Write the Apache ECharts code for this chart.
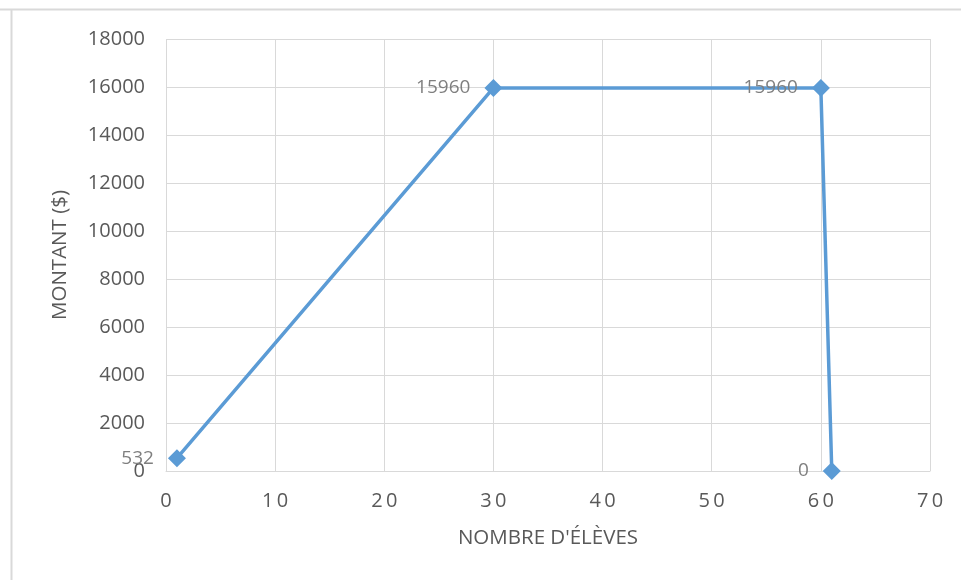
<!DOCTYPE html>
<html>
<head>
<meta charset="utf-8">
<script src="https://cdn.jsdelivr.net/npm/echarts@6/dist/echarts.min.js"></script>
<style>
  html, body { margin: 0; padding: 0; background: #fff; }
  #chart { width: 961px; height: 580px; }
</style>
</head>
<body>
<div id="chart"></div>
<script>
// Number of students vs. amount collected
const eleves = [1, 30, 60, 61];
const montants = [532, 15960, 15960, 0];

const xTicks = { min: 0, max: 70, interval: 10 };
const yTicks = { min: 0, max: 18000, interval: 2000 };

const xTitle = "NOMBRE D'ÉLÈVES";
const yTitle = 'MONTANT ($)';

const font = '"Open Sans", "Liberation Sans", sans-serif';
const grey = '#595959';
const gridGrey = '#d9d9d9';

const chart = echarts.init(document.getElementById('chart'), null, { renderer: 'canvas' });

chart.setOption({
  animation: false,
  backgroundColor: '#fff',
  graphic: [
    { type: 'line', shape: { x1: 0, y1: 9.5, x2: 961, y2: 9.5 }, style: { stroke: '#d9d9d9', lineWidth: 2 } },
    { type: 'line', shape: { x1: 11.5, y1: 9, x2: 11.5, y2: 580 }, style: { stroke: '#d9d9d9', lineWidth: 2 } }
  ],
  grid: { left: 166, right: 31, top: 39, bottom: 109, containLabel: false },
  xAxis: {
    type: 'value',
    min: xTicks.min, max: xTicks.max, interval: xTicks.interval,
    name: xTitle,
    nameLocation: 'middle',
    nameGap: 57,
    nameTextStyle: { color: grey, fontFamily: font, fontSize: 20.5 },
    axisLine: { show: true, lineStyle: { color: gridGrey, width: 1 } },
    axisTick: { show: false },
    splitLine: { show: true, lineStyle: { color: gridGrey, width: 1 } },
    axisLabel: {
      color: grey, fontFamily: font, fontSize: 20, margin: 20,
      formatter: v => String(v).split('').join('\u2009')
    }
  },
  yAxis: {
    type: 'value',
    min: yTicks.min, max: yTicks.max, interval: yTicks.interval,
    name: yTitle,
    nameLocation: 'middle',
    nameGap: 95,
    nameRotate: 90,
    nameTextStyle: { color: grey, fontFamily: font, fontSize: 20.5 },
    axisLine: { show: false },
    axisTick: { show: false },
    splitLine: { show: true, lineStyle: { color: gridGrey, width: 1 } },
    axisLabel: { color: grey, fontFamily: font, fontSize: 20, margin: 21, formatter: v => String(v) }
  },
  series: [{
    type: 'line',
    data: eleves.map((x, i) => [x, montants[i]]),
    lineStyle: { color: '#5b9bd5', width: 3.5 },
    itemStyle: { color: '#5b9bd5' },
    symbol: 'diamond',
    symbolSize: 18,
    label: {
      show: true,
      position: 'left',
      distance: 14,
      color: '#7f7f7f',
      fontFamily: font,
      fontSize: 19,
      formatter: p => String(p.value[1])
    }
  }]
});
</script>
</body>
</html>
